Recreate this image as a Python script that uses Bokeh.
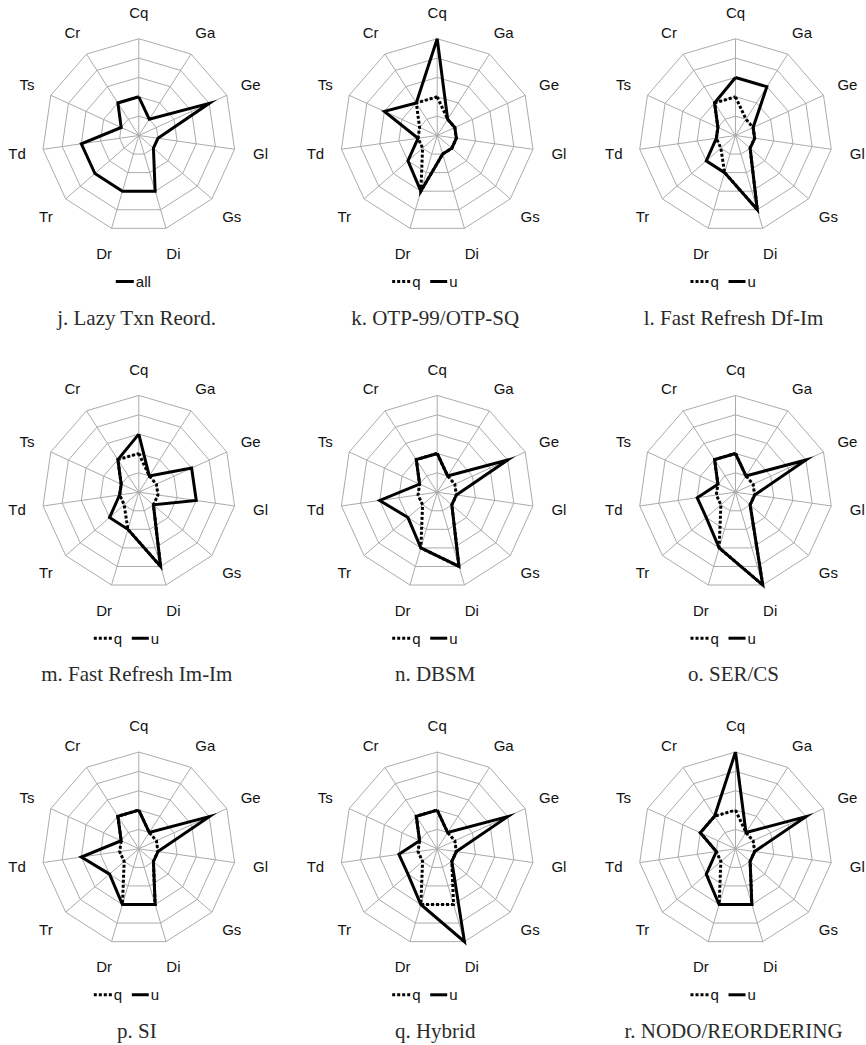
import numpy as np
from bokeh.plotting import figure
from bokeh.models import Range1d
from bokeh.core.properties import value
from bokeh.embed import file_html
from bokeh.resources import INLINE

# Radar axes, clockwise from the top
AXES = ["Cq", "Ga", "Ge", "Gl", "Gs", "Di", "Dr", "Tr", "Td", "Ts", "Cr"]
RING_LEVELS = [1, 2, 3, 4, 5]

# Scores per axis (0-5)
j_all = [2, 1, 4, 1, 1, 3, 3, 3, 3, 1, 2]
k_q = [2, 1, 1, 1, 1, 1, 3, 1, 1, 1, 2]
k_u = [5, 1, 1, 1, 1, 1, 3, 2, 1, 3, 2]
l_q = [2, 1, 1, 1, 1, 4, 2, 1, 1, 1, 2]
l_u = [3, 3, 1, 1, 1, 4, 2, 2, 1, 1, 2]
m_q = [2, 1, 1, 1, 1, 4, 2, 1, 1, 1, 2]
m_u = [3, 1, 3, 3, 1, 4, 2, 2, 1, 1, 2]
n_q = [2, 1, 1, 1, 1, 4, 3, 1, 1, 1, 2]
n_u = [2, 1, 4, 1, 1, 4, 3, 2, 3, 1, 2]
o_q = [2, 1, 1, 1, 1, 5, 3, 1, 1, 1, 2]
o_u = [2, 1, 4, 1, 1, 5, 3, 2, 2, 1, 2]
p_q = [2, 1, 1, 1, 1, 3, 3, 1, 1, 1, 2]
p_u = [2, 1, 4, 1, 1, 3, 3, 2, 3, 1, 2]
q_q = [2, 1, 1, 1, 1, 3, 3, 1, 1, 1, 2]
q_u = [2, 1, 4, 1, 1, 5, 3, 2, 2, 1, 2]
r_q = [2, 1, 1, 1, 1, 3, 3, 1, 1, 2, 2]
r_u = [5, 1, 4, 1, 1, 3, 3, 2, 1, 2, 2]

CAPTIONS = [
    "j. Lazy Txn Reord.", "k. OTP-99/OTP-SQ", "l. Fast Refresh Df-Im",
    "m. Fast Refresh Im-Im", "n. DBSM", "o. SER/CS",
    "p. SI", "q. Hybrid", "r. NODO/REORDERING",
]
SERIES = [
    {"all": j_all},
    {"q": k_q, "u": k_u},
    {"q": l_q, "u": l_u},
    {"q": m_q, "u": m_u},
    {"q": n_q, "u": n_u},
    {"q": o_q, "u": o_u},
    {"q": p_q, "u": p_u},
    {"q": q_q, "u": q_u},
    {"q": r_q, "u": r_u},
]

W, H = 866, 1045
CENTERS_X = [138.3, 436.7, 735.0]
CENTERS_Y = [135.0, 491.7, 848.3]
UNIT = 19.35          # pixels per score step
LABEL_R = 123
GRID = "#ababab"
INK = "#000000"
TEXT = "#111111"
SANS = value("Liberation Sans")
SERIF = value("Liberation Serif")

theta = np.pi / 2 - 2 * np.pi * np.arange(len(AXES)) / len(AXES)


def polar(cx, cy, r):
    r = np.asarray(r, dtype=float)
    return cx + r * np.cos(theta), cy - r * np.sin(theta)


p = figure(width=W, height=H, x_range=Range1d(0, W), y_range=Range1d(H, 0),
           output_backend="svg", toolbar_location=None, min_border=0,
           x_axis_type=None, y_axis_type=None)
p.xgrid.visible = False
p.ygrid.visible = False
p.outline_line_color = None
p.background_fill_color = "white"
p.border_fill_color = "white"

for idx, (caption, series) in enumerate(zip(CAPTIONS, SERIES)):
    cx = CENTERS_X[idx % 3]
    cy = CENTERS_Y[idx // 3]

    # rings
    ring_xs, ring_ys = [], []
    for lvl in RING_LEVELS:
        x, y = polar(cx, cy, np.full(len(AXES), lvl * UNIT))
        ring_xs.append(list(x) + [x[0]])
        ring_ys.append(list(y) + [y[0]])
    p.multi_line(ring_xs, ring_ys, line_color=GRID, line_width=1)

    # spokes
    ox, oy = polar(cx, cy, np.full(len(AXES), RING_LEVELS[-1] * UNIT))
    p.segment(x0=[cx] * len(AXES), y0=[cy] * len(AXES), x1=ox, y1=oy,
              line_color=GRID, line_width=1)

    # axis labels
    lx, ly = polar(cx, cy, np.full(len(AXES), LABEL_R))
    p.text(x=lx, y=ly, text=AXES, text_align="center", text_baseline="middle",
           text_font=SANS, text_font_size="15px", text_color=TEXT)

    # data polygons (q underneath, u on top)
    for name in ["q", "all", "u"]:
        if name not in series:
            continue
        vals = np.asarray(series[name], dtype=float) * UNIT
        x, y = polar(cx, cy, vals)
        xs = list(x) + [x[0]]
        ys = list(y) + [y[0]]
        if name == "q":
            p.line(xs, ys, line_color=INK, line_width=3, line_dash="3 2",
                   line_join="miter")
        else:
            p.line(xs, ys, line_color=INK, line_width=3, line_join="miter")

    # legend
    ly0 = cy + 146
    if "all" in series:
        p.line([cx - 23, cx - 5], [ly0, ly0], line_color=INK, line_width=3)
        p.text(x=[cx - 3], y=[ly0], text=["all"], text_align="left",
               text_baseline="middle", text_font=SANS, text_font_size="15px",
               text_color=TEXT)
    else:
        p.line([cx - 45, cx - 26], [ly0, ly0], line_color=INK, line_width=3,
               line_dash="3 2")
        p.text(x=[cx - 25], y=[ly0], text=["q"], text_align="left",
               text_baseline="middle", text_font=SANS, text_font_size="15px",
               text_color=TEXT)
        p.line([cx - 7, cx + 10], [ly0, ly0], line_color=INK, line_width=3)
        p.text(x=[cx + 12], y=[ly0], text=["u"], text_align="left",
               text_baseline="middle", text_font=SANS, text_font_size="15px",
               text_color=TEXT)

    # caption
    p.text(x=[cx - 2], y=[cy + 182], text=[caption], text_align="center",
           text_baseline="middle", text_font=SERIF, text_font_size="21px",
           text_color="#2b2b2b")

open("out.html", "w").write(file_html(p, INLINE))
